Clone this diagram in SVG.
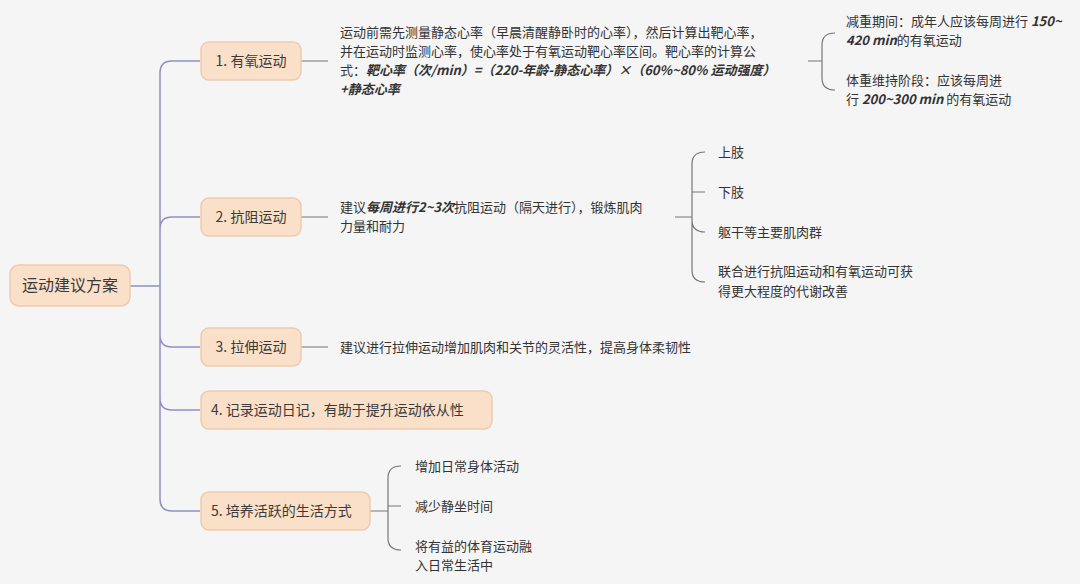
<svg xmlns="http://www.w3.org/2000/svg" width="1080" height="584" viewBox="0 0 1080 584">
<style>
text{font-family:"Noto Sans CJK SC","Noto Sans",sans-serif;font-size:13px;fill:#333}
.n{fill:#fae0c8;stroke:#eccbb0;stroke-width:1.5}
.t{font-size:14px;fill:#3a3a3a}
.tr{fill:none;stroke:#8f8fc4;stroke-width:1.5}
.g{fill:none;stroke:#777;stroke-width:1.2}
.b{font-weight:bold;font-style:italic}
</style>
<rect width="1080" height="584" fill="#f5f5f5"/>
<g id="connectors">
<path class="tr" d="M130 286H160M172 61H200M172 217H200M172 347H200M172 410H200M172 511H200M160 286V73Q160 61 172 61M160 286V229Q160 217 172 217M160 286V335Q160 347 172 347M160 286V398Q160 410 172 410M160 286V499Q160 511 172 511"/>
<path class="g" d="M300 61H328M300 217H328M300 347H328M370 511H380"/>
<path class="g" d="M808 61H822M835 33Q822 33 822 45V78Q822 90 835 90"/>
<path class="g" d="M675 217H692M705 152Q692 152 692 164V270Q692 282 705 282M692 192Q692 192 705 192M692 220Q692 232 705 232"/>
<path class="g" d="M380 511H388M401 466Q388 466 388 478V538Q388 550 401 550M388 506H401"/>
</g>
<g id="root"><rect class="n" x="10" y="265" width="120" height="41" rx="9"/><text class="t" style="font-size:16px" x="70" y="291" text-anchor="middle">运动建议方案</text></g>
<g id="n1"><rect class="n" x="201" y="42" width="100" height="38" rx="8"/><text class="t" x="251" y="66" text-anchor="middle">1. 有氧运动</text></g>
<g id="n2"><rect class="n" x="201" y="198" width="100" height="38" rx="8"/><text class="t" x="251" y="222" text-anchor="middle">2. 抗阻运动</text></g>
<g id="n3"><rect class="n" x="201" y="328" width="100" height="38" rx="8"/><text class="t" x="251" y="352" text-anchor="middle">3. 拉伸运动</text></g>
<g id="n4"><rect class="n" x="201" y="391" width="291" height="38" rx="8"/><text class="t" x="211" y="415">4. 记录运动日记，有助于提升运动依从性</text></g>
<g id="n5"><rect class="n" x="201" y="492" width="169" height="38" rx="8"/><text class="t" x="211" y="516">5. 培养活跃的生活方式</text></g>
<g id="t1">
<text x="340" y="37">运动前需先测量静态心率（早晨清醒静卧时的心率），然后计算出靶心率，</text>
<text x="340" y="56">并在运动时监测心率，使心率处于有氧运动靶心率区间。靶心率的计算公</text>
<text x="340" y="75">式：<tspan class="b">靶心率（次/min）=（220-年龄-静态心率）×（60%~80% 运动强度）</tspan></text>
<text x="340" y="94" class="b">+静态心率</text>
</g>
<g id="t1a"><text x="846" y="26">减重期间：成年人应该每周进行 <tspan class="b">150~</tspan></text><text x="846" y="45"><tspan class="b">420 min</tspan>的有氧运动</text></g>
<g id="t1b"><text x="846" y="85">体重维持阶段：应该每周进</text><text x="846" y="104">行 <tspan class="b">200~300 min</tspan> 的有氧运动</text></g>
<g id="t2"><text x="340" y="212">建议<tspan class="b">每周进行2~3次</tspan>抗阻运动（隔天进行），锻炼肌肉</text><text x="340" y="231">力量和耐力</text></g>
<g id="t2a"><text x="718" y="157">上肢</text></g>
<g id="t2b"><text x="718" y="197">下肢</text></g>
<g id="t2c"><text x="718" y="237">躯干等主要肌肉群</text></g>
<g id="t2d"><text x="718" y="276">联合进行抗阻运动和有氧运动可获</text><text x="718" y="296">得更大程度的代谢改善</text></g>
<g id="t3"><text x="340" y="352">建议进行拉伸运动增加肌肉和关节的灵活性，提高身体柔韧性</text></g>
<g id="t5a"><text x="415" y="471">增加日常身体活动</text></g>
<g id="t5b"><text x="415" y="511">减少静坐时间</text></g>
<g id="t5c"><text x="415" y="551">将有益的体育运动融</text><text x="415" y="570">入日常生活中</text></g>
</svg>
